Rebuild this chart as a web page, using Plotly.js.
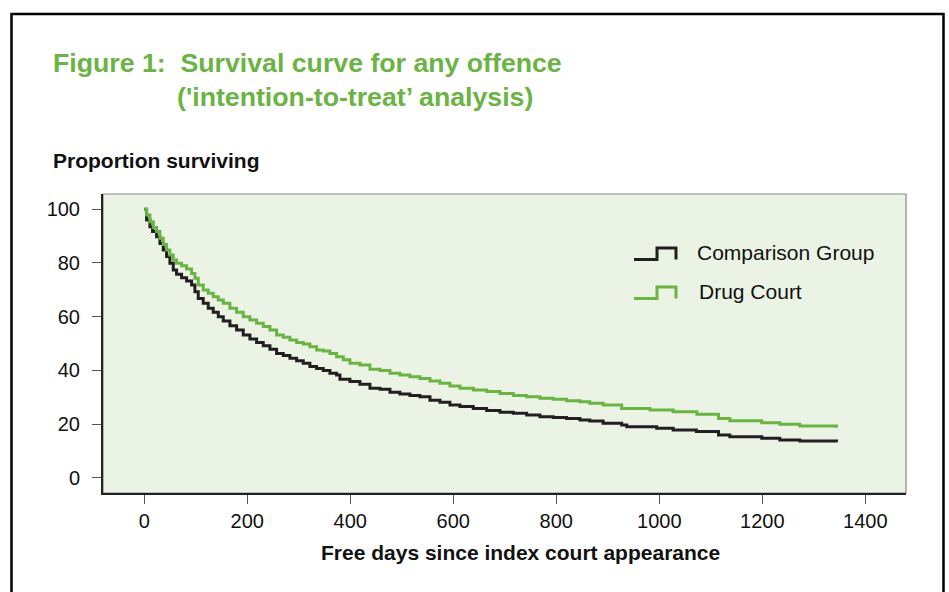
<!DOCTYPE html>
<html>
<head>
<meta charset="utf-8">
<script src="https://cdn.plot.ly/plotly-3.0.1.min.js"></script>
<style>
html,body{margin:0;padding:0;background:#fff;}
#chart{width:949px;height:592px;}
</style>
</head>
<body>
<div id="chart"></div>
<script>
// Comparison Group (black)
const compX = [0,4.6,11.1,16.2,24,30.5,37,43.4,49.9,56.4,62.8,72.6,82.3,92,98.4,104.9,114.6,124.3,134,143.8,153.5,166.4,179.4,192.3,205.2,218.2,231.1,244.1,257,270,282.9,295.9,308.8,321.7,334.7,347.6,360.6,373.5,380,399.4,418.8,438.3,457.7,477.1,496.5,515.9,535.3,554.8,574.2,593.6,613,638.9,664.8,690.7,716.6,742.5,768.3,794.2,820.1,846,865,891,927,937,995,1027,1072,1115,1137,1199,1234,1273,1344];
const compY = [100,96.0,93.5,91.7,89.8,87.3,84.8,82.4,79.9,77.4,75.8,74.5,73.3,71.8,69.3,66.8,65.0,63.1,61.6,60.0,58.4,56.6,55.0,53.2,51.7,50.4,49.2,47.9,46.3,45.5,44.5,43.6,42.6,41.4,40.7,39.9,38.9,38.3,36.7,35.8,34.8,33.3,33.0,31.8,31.2,30.6,30.2,28.9,28.1,27.1,26.5,25.8,25.0,24.4,24.0,23.4,22.7,22.4,22.1,21.5,21.1,20.3,19.6,19.0,18.4,17.8,17.2,15.9,15.3,14.7,14.0,13.7,13.2];
// Drug Court (green)
const drugX = [0,4.6,11.1,17.5,24,30.5,37,43.4,49.9,56.4,62.8,72.6,82.3,92,98.4,104.9,114.6,124.3,134,143.8,153.5,166.4,179.4,192.3,205.2,218.2,231.1,244.1,257,270,282.9,295.9,308.8,321.7,334.7,347.6,360.6,373.5,386.5,399.4,418.8,438.3,457.7,477.1,496.5,515.9,535.3,554.8,574.2,593.6,613,638.9,664.8,690.7,716.6,742.5,768.3,794.2,820.1,846,865,891,927,982,1027,1073,1115,1137,1199,1234,1273,1344];
const drugY = [100,97.9,95.4,93.2,91.7,89.2,86.9,84.8,83.0,81.1,79.9,79.0,77.8,76.1,74.3,71.8,69.9,68.7,67.4,66.2,65.0,63.1,61.6,60.0,58.8,57.5,56.3,55.0,53.2,52.3,51.3,50.4,49.8,48.8,47.6,47.2,46.3,45.1,43.9,42.6,42.0,40.4,39.9,38.9,38.3,37.6,37.0,36.0,35.2,34.2,33.3,32.7,32.1,31.4,30.6,30.2,29.6,29.2,28.7,28.3,27.7,27.1,25.8,25.2,24.6,23.6,22.1,21.2,20.5,19.9,19.3,18.6];

const seriesNames = ["Comparison Group", "Drug Court"];
const seriesColors = ["#231f20", "#6ab344"];
const xTicks = [0,200,400,600,800,1000,1200,1400];
const yTicks = [0,20,40,60,80,100];

const GREEN = "#6ab344";
const FONT = "Liberation Sans, Arial, sans-serif";

const traces = [
  {x: compX, y: compY, name: seriesNames[0], type: "scatter", mode: "lines",
   line: {shape: "hv", color: seriesColors[0], width: 3}},
  {x: drugX, y: drugY, name: seriesNames[1], type: "scatter", mode: "lines",
   line: {shape: "hv", color: seriesColors[1], width: 3}}
];

const L = 103, R = 906, T = 194, B = 493;
const px = v => (v - L) / (R - L);
const py = v => (B - v) / (B - T);

// custom step-shaped legend keys
const legendRows = [252, 291];
const legendShapes = seriesNames.map((n, i) => {
  const base = legendRows[i] + 7.5, top = legendRows[i] - 4;
  const P = (x, y) => px(x) + "," + py(y);
  return {type: "path", xref: "paper", yref: "paper",
          path: "M" + P(634, base) + " L" + P(657, base) + " L" + P(657, top) + " L" + P(676, top) + " L" + P(676, base),
          line: {color: seriesColors[i], width: 3}};
});
const legendTexts = seriesNames.map((n, i) => ({
  xref: "paper", yref: "paper", x: px(695 + i * 2), y: py(legendRows[i]), xanchor: "left", yanchor: "middle",
  text: n, showarrow: false, font: {family: FONT, size: 21, color: "#111"}
}));

const layout = {
  width: 949, height: 592,
  margin: {l: L, r: 949 - R, t: T, b: 592 - B, pad: 0},
  paper_bgcolor: "#ffffff",
  plot_bgcolor: "#ebf3e5",
  font: {family: FONT, color: "#111", size: 20},
  showlegend: false,
  xaxis: {range: [-80, 1479], tickvals: xTicks, ticktext: xTicks.map(String),
          ticks: "outside", ticklen: 9, tickwidth: 1, tickcolor: "#555",
          showgrid: false, zeroline: false, showline: true, linecolor: "#222", linewidth: 2,
          tickfont: {size: 20, family: FONT, color: "#111"}, ticklabelstandoff: 0, fixedrange: true},
  yaxis: {range: [-5.7, 105.7], tickvals: yTicks, ticktext: yTicks.map(String),
          ticks: "outside", ticklen: 9, tickwidth: 1, tickcolor: "#555",
          showgrid: false, zeroline: false, showline: true, linecolor: "#222", linewidth: 2,
          tickfont: {size: 20, family: FONT, color: "#111"}, ticklabelstandoff: 8, fixedrange: true},
  shapes: [
    {type: "rect", xref: "paper", yref: "paper", x0: 0, x1: 1, y0: 0, y1: 1,
     line: {color: "#888", width: 1.2}, layer: "below"},
    {type: "rect", xref: "paper", yref: "paper", x0: px(11.5), x1: px(943.5), y0: py(640), y1: py(14),
     line: {color: "#000", width: 2.5}}
  ].concat(legendShapes),
  annotations: [
    {xref: "paper", yref: "paper", x: px(51), y: py(63), xanchor: "left", yanchor: "middle",
     text: "Figure 1:  Survival curve for any offence", showarrow: false,
     font: {family: FONT, size: 26.7, color: GREEN, weight: "bold"}},
    {xref: "paper", yref: "paper", x: px(175), y: py(97), xanchor: "left", yanchor: "middle",
     text: "('intention-to-treat’ analysis)", showarrow: false,
     font: {family: FONT, size: 26.7, color: GREEN, weight: "bold"}},
    {xref: "paper", yref: "paper", x: px(51), y: py(160), xanchor: "left", yanchor: "middle",
     text: "<b>Proportion surviving</b>", showarrow: false,
     font: {family: FONT, size: 21, color: "#111"}},
    {xref: "paper", yref: "paper", x: px(520), y: py(552), xanchor: "center", yanchor: "middle",
     text: "<b>Free days since index court appearance</b>", showarrow: false,
     font: {family: FONT, size: 21, color: "#111"}}
  ].concat(legendTexts)
};

Plotly.newPlot("chart", traces, layout, {displayModeBar: false, staticPlot: true});
</script>
</body>
</html>
